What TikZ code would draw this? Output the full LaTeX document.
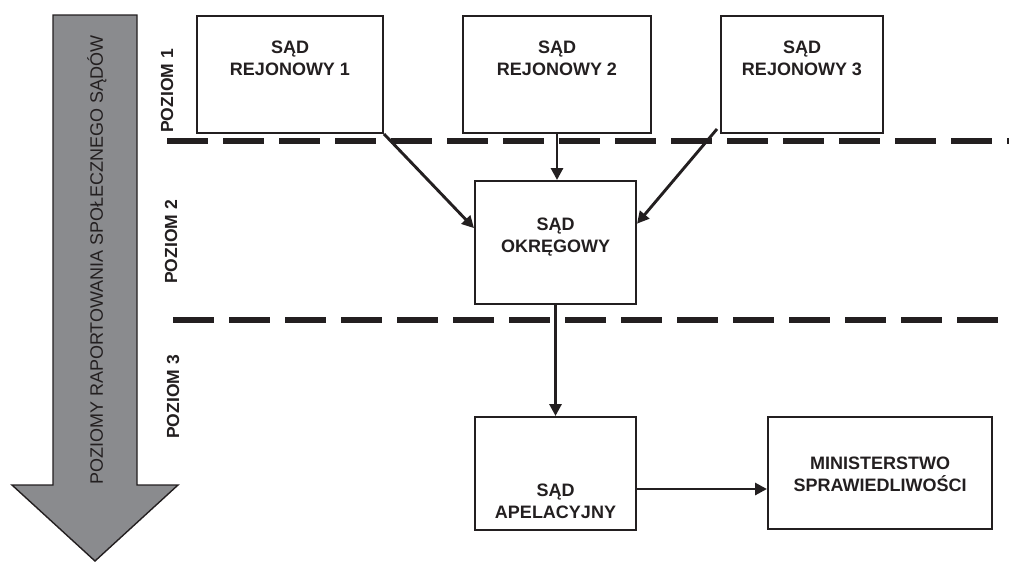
\documentclass[tikz,border=0pt]{standalone}
\usepackage{fontspec}
\setmainfont{Liberation Sans}
\usetikzlibrary{arrows.meta,calc}
\definecolor{dark}{RGB}{35,31,32}
\definecolor{arrgray}{RGB}{138,139,142}
\newcommand{\bxlbl}[4]{\begin{minipage}[c][#2][t]{#1}\centering\vspace*{#3}#4\end{minipage}}
\tikzset{
  court/.style={draw=dark, line width=2pt, inner sep=0pt, anchor=north west, text=dark,
    font=\fontsize{18}{22}\selectfont\bfseries},
  conn/.style={draw=dark, line width=2.9pt, -{Triangle[length=12pt,width=12pt]}},
  dashline/.style={draw=dark, line width=6pt, dash pattern=on 41pt off 15pt},
  level/.style={rotate=90, text=dark, font=\fontsize{17.5}{20}\selectfont\bfseries},
  bigarrow/.style={draw=dark, line width=1.4pt, fill=arrgray, line join=miter}
}
\begin{document}
\begin{tikzpicture}[x=1pt,y=-1pt]
\useasboundingbox (0,0) rectangle (1009,563);
% big arrow
\draw[bigarrow] (53,15) -- (137,15) -- (137,485) -- (178,485) -- (95,561) -- (12,485) -- (53,485) -- cycle;
\node[rotate=90, text=dark, font=\fontsize{18}{20}\selectfont] (axis) at (97,260) {POZIOMY RAPORTOWANIA SPOŁECZNEGO SĄDÓW};
% level labels
\node[level] (p1) at (167,91) {POZIOM 1};
\node[level] (p2) at (171,242) {POZIOM 2};
\node[level] (p3) at (173,397) {POZIOM 3};
% dashed separators
\draw[dashline] (167,141) -- (1009,141);
\draw[dashline] (173,320) -- (1002,320);
% boxes
\node[court] (r1) at (196,15) {\bxlbl{186pt}{117pt}{24.5pt}{SĄD\\REJONOWY 1}};
\node[court] (r2) at (462,15) {\bxlbl{188pt}{117pt}{24.5pt}{SĄD\\REJONOWY 2}};
\node[court] (r3) at (720,15) {\bxlbl{162pt}{117pt}{24.5pt}{SĄD\\REJONOWY 3}};
\node[court] (okr) at (474,180) {\bxlbl{161pt}{123pt}{36.5pt}{SĄD\\OKRĘGOWY}};
\node[court] (apel) at (474,416) {\bxlbl{161pt}{113pt}{66.5pt}{SĄD\\APELACYJNY}};
\node[court] (mini) at (767,416) {\bxlbl{224pt}{112pt}{39.5pt}{MINISTERSTWO\\SPRAWIEDLIWOŚCI}};
% connectors
\draw[conn] (r1.south east) -- (okr.170);
\draw[conn] (r2.south) -- (r2.south |- okr.north);
\draw[conn] ($(r3.south west)+(-3,-5)$) -- (okr.13);
\draw[conn] (okr.south) -- (apel.north);
\draw[conn] ($(apel.east)+(0,15.5)$) coordinate (a1) -- (a1 -| mini.west);
\end{tikzpicture}
\end{document}
